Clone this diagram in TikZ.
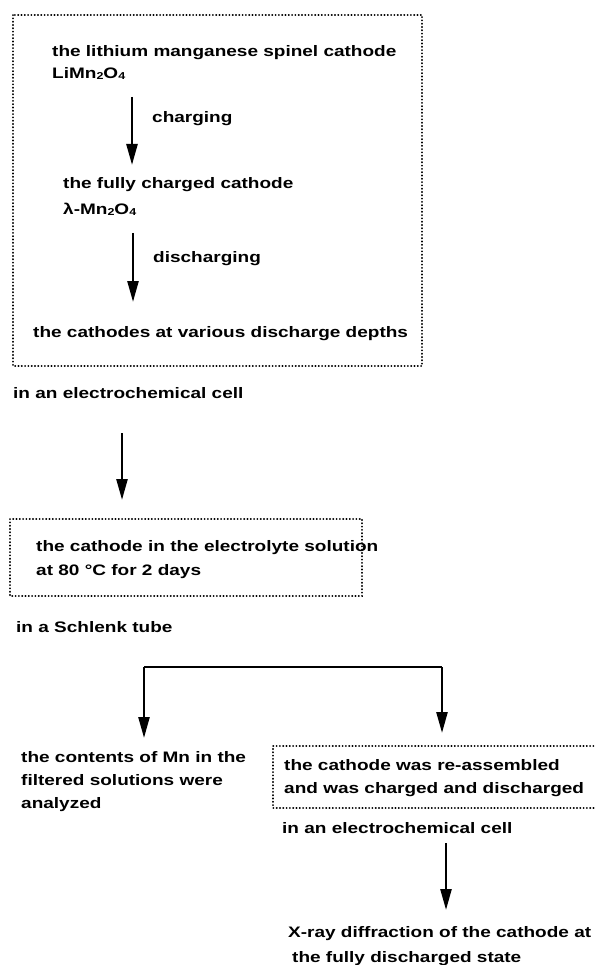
\documentclass[tikz,border=0pt]{standalone}
\usepackage{fontspec}
\usetikzlibrary{arrows.meta}
\newfontfamily\labfont{Liberation Sans}[FakeStretch=1.25]
\newcommand{\lsub}[1]{\raisebox{-0.12ex}{\fontsize{10}{10}\selectfont #1}}
\tikzset{
  lab/.style={anchor=base west, inner sep=0pt, font=\labfont\bfseries\fontsize{15.2}{17}\selectfont},
  dotbox/.style={line width=1.9pt, dash pattern=on 0.2pt off 3.1pt, line cap=round},
  flow/.style={line width=2.5pt, -{Triangle[length=21pt,width=11pt]}},
  link/.style={line width=2.5pt}
}
\begin{document}
\begin{tikzpicture}[x=1pt,y=-1pt]
\useasboundingbox (0,0) rectangle (595,965);
\clip (0,0) rectangle (595,965);
\fill[white] (0,0) rectangle (595,965);

% box 1
\draw[dotbox] (13,15) rectangle (422,366);
\node[lab] (t1) at (52,57) {the lithium manganese spinel cathode};
\node[lab] (t2) at (52,79) {LiMn\lsub{2}O\lsub{4}};
\node[lab] (chg) at (152,123) {charging};
\node[lab] (t3) at (63,189) {the fully charged cathode};
\node[lab] (t4) at (63,215) {λ-Mn\lsub{2}O\lsub{4}};
\node[lab] (dchg) at (153,263) {discharging};
\node[lab] (t5) at (33,337) {the cathodes at various discharge depths};
\node[lab] (cell1) at (13,398) {in an electrochemical cell};

\coordinate (a1s) at (132,97);
\coordinate (a1e) at (132,165);
\coordinate (a2s) at (133,233);
\coordinate (a2e) at (133,302);
\draw[flow] (a1s) -- (a1e);
\draw[flow] (a2s) -- (a2e);

% arrow to box 2
\coordinate (a3s) at (122,433);
\coordinate (a3e) at (122,500);
\draw[flow] (a3s) -- (a3e);

% box 2
\draw[dotbox] (10,519) rectangle (362,596);
\node[lab] (s1) at (36,551) {the cathode in the electrolyte solution};
\node[lab] (s2) at (36,575) {at 80 °C for 2 days};
\node[lab] (sch) at (16,632) {in a Schlenk tube};

% branch
\coordinate (bl) at (144,667);
\coordinate (br) at (442,667);
\coordinate (ble) at (144,738);
\coordinate (bre) at (442,733);
\draw[link] (bl) -- (br);
\draw[flow] (bl) -- (ble);
\draw[flow] (br) -- (bre);

\node[lab] (m1) at (21,762) {the contents of Mn in the};
\node[lab] (m2) at (21,785) {filtered solutions were};
\node[lab] (m3) at (21,808) {analyzed};

% box 3
\draw[dotbox] (610,746) -- (273,746) -- (273,808) -- (610,808);
\node[lab] (r1) at (284,770) {the cathode was re-assembled};
\node[lab] (r2) at (284,793) {and was charged and discharged};
\node[lab] (cell2) at (282,833) {in an electrochemical cell};

\coordinate (a4s) at (446,843);
\coordinate (a4e) at (446,910);
\draw[flow] (a4s) -- (a4e);

\node[lab] (x1) at (288,937) {X-ray diffraction of the cathode at};
\node[lab] (x2) at (292,962) {the fully discharged state};
\end{tikzpicture}
\end{document}
